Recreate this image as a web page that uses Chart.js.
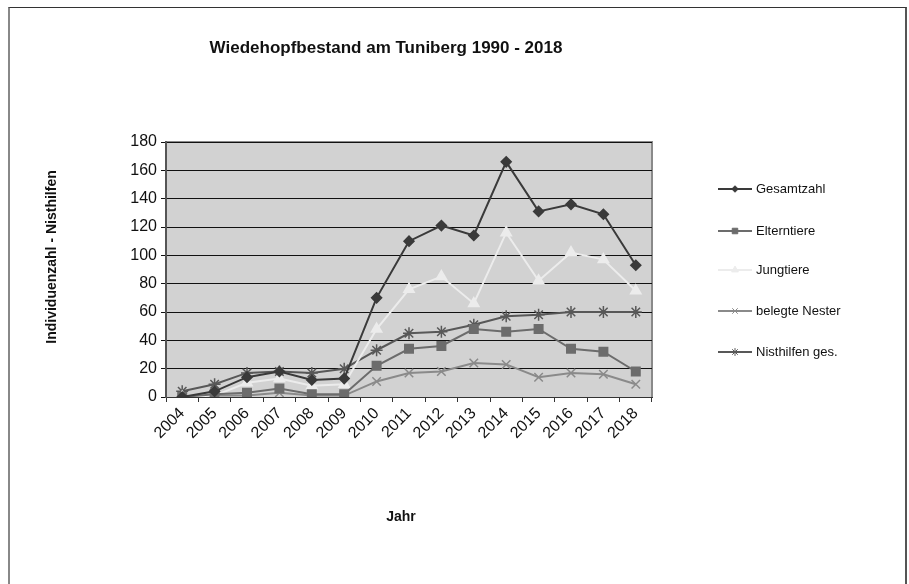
<!DOCTYPE html>
<html>
<head>
<meta charset="utf-8">
<script src="https://cdn.jsdelivr.net/npm/chart.js@4"></script>
<style>
  body { margin: 0; background: #fff; }
  #wrap { position: relative; width: 909px; height: 584px; }
  #frame { position: absolute; left: 8px; top: 7px; width: 895px; height: 600px;
           border-top: 1px solid #333; border-left: 2px solid #888; border-right: 2px solid #555; }
</style>
</head>
<body>
<div id="wrap">
  <div id="frame"></div>
  <canvas id="myChart" width="909" height="584"></canvas>
</div>
<script>
var years = ['2004', '2005', '2006', '2007', '2008', '2009', '2010', '2011', '2012', '2013', '2014', '2015', '2016', '2017', '2018'];
var gesamtzahl = [0, 4, 14, 18, 12, 13, 70, 110, 121, 114, 166, 131, 136, 129, 93];
var elterntiere = [0, 2, 3, 6, 2, 2, 22, 34, 36, 48, 46, 48, 34, 32, 18];
var jungtiere = [0, 1, 10, 13, 8, 9, 48, 76, 85, 66, 116, 82, 102, 97, 75];
var belegteNester = [0, 1, 1, 3, 1, 1, 11, 17, 18, 24, 23, 14, 17, 16, 9];
var nisthilfen = [4, 9, 17, 18, 17, 20, 33, 45, 46, 51, 57, 58, 60, 60, 60];
var yTicks = [0, 20, 40, 60, 80, 100, 120, 140, 160, 180];

var font = 'Liberation Sans, Arial, sans-serif';

function series(label, data, color, style, radius) {
    return {
        label: label,
        data: data,
        borderColor: color,
        backgroundColor: color,
        pointBackgroundColor: color,
        pointBorderColor: color,
        pointStyle: style,
        pointRadius: radius,
        pointBorderWidth: 1.5,
        borderWidth: 2,
        tension: 0
    };
}

// Plot background, title, axis titles and legend
var decor = {
    id: 'decor',
    beforeDraw: function (chart) {
        var a = chart.chartArea, c = chart.ctx;
        c.save();
        c.fillStyle = '#d2d2d2';
        c.fillRect(a.left, a.top, a.right - a.left, a.bottom - a.top);
        c.strokeStyle = '#8a8a8a';
        c.lineWidth = 2;
        c.beginPath();
        c.moveTo(a.left, a.top);
        c.lineTo(a.right, a.top);
        c.lineTo(a.right, a.bottom);
        c.stroke();
        c.restore();
    },
    afterDraw: function (chart) {
        var c = chart.ctx;
        c.save();
        c.fillStyle = '#111';
        c.textAlign = 'center';
        c.textBaseline = 'middle';
        c.font = 'bold 17px ' + font;
        c.fillText('Wiedehopfbestand am Tuniberg 1990 - 2018', 386, 48);
        c.font = 'bold 14px ' + font;
        c.fillText('Jahr', 401, 517);
        c.translate(52, 257);
        c.rotate(-Math.PI / 2);
        c.fillText('Individuenzahl - Nisthilfen', 0, 0);
        c.restore();

        var ys = [189, 231, 270, 311, 352];
        chart.data.datasets.forEach(function (ds, i) {
            var y = ys[i];
            c.save();
            c.strokeStyle = ds.borderColor;
            c.fillStyle = ds.borderColor;
            c.lineWidth = 2;
            c.beginPath();
            c.moveTo(718, y);
            c.lineTo(752, y);
            c.stroke();
            c.lineWidth = 1;
            Chart.helpers.drawPoint(c, {
                pointStyle: ds.pointStyle,
                radius: ds.pointRadius * 0.65,
                borderWidth: 1,
                rotation: 0
            }, 735, y);
            c.fillStyle = '#111';
            c.font = '13px ' + font;
            c.textAlign = 'left';
            c.textBaseline = 'middle';
            c.fillText(ds.label, 756, y);
            c.restore();
        });
    }
};

new Chart(document.getElementById('myChart'), {
    type: 'line',
    data: {
        labels: years,
        datasets: [
            series('Gesamtzahl', gesamtzahl, '#3a3a3a', 'rectRot', 5),
            series('Elterntiere', elterntiere, '#6c6c6c', 'rect', 6),
            series('Jungtiere', jungtiere, '#ececec', 'triangle', 6),
            series('belegte Nester', belegteNester, '#8a8a8a', 'crossRot', 6),
            series('Nisthilfen ges.', nisthilfen, '#585858', 'star', 6)
        ]
    },
    options: {
        responsive: false,
        animation: false,
        layout: {
            padding: { left: 100, top: 142, right: 257, bottom: 124 }
        },
        plugins: {
            legend: { display: false },
            title: { display: false },
            tooltip: { enabled: false }
        },
        scales: {
            x: {
                offset: true,
                afterFit: function (s) { s.height = 63; },
                grid: {
                    offset: true,
                    drawOnChartArea: false,
                    drawTicks: true,
                    tickLength: 5,
                    color: '#333'
                },
                border: { color: '#333', width: 1 },
                ticks: {
                    color: '#111',
                    font: { family: font, size: 16 },
                    maxRotation: 45,
                    minRotation: 45,
                    autoSkip: false,
                    padding: 2
                }
            },
            y: {
                min: 0,
                max: 180,
                afterFit: function (s) { s.width = 66; },
                afterBuildTicks: function (s) {
                    s.ticks = yTicks.map(function (v) { return { value: v }; });
                },
                grid: {
                    color: '#111',
                    lineWidth: 1,
                    drawTicks: true,
                    tickLength: 5
                },
                border: { color: '#555', width: 2 },
                ticks: {
                    color: '#111',
                    font: { family: font, size: 16 },
                    padding: 4
                }
            }
        }
    },
    plugins: [decor]
});
</script>
</body>
</html>
